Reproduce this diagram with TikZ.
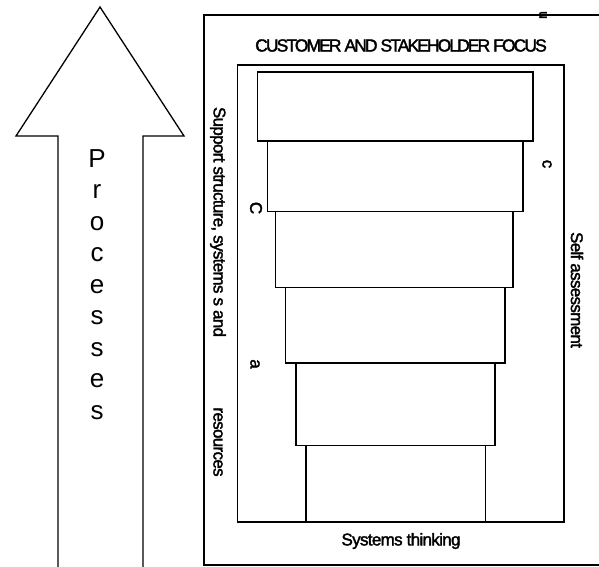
\documentclass[tikz,border=0pt]{standalone}
\usepackage{fontspec}
\setmainfont{Liberation Sans}
\newfontfamily\tightfont[LetterSpace=-4,FakeBold=2]{Liberation Sans}
\newfontfamily\headfont[LetterSpace=-11,FakeBold=2]{Liberation Sans}
\begin{document}
\begin{tikzpicture}[x=1pt,y=-1pt,
  frameline/.style={line width=1.6pt},
  tier/.style={draw,line width=1.6pt},
  lbl/.style={font=\tightfont\fontsize{17}{20}\selectfont, inner sep=0pt},
  vlbl/.style={lbl, rotate=-90},
  head/.style={font=\headfont\fontsize{17.5}{20}\selectfont, inner sep=0pt},
  proc/.style={font=\fontsize{26}{30}\selectfont, inner sep=0pt, anchor=base}]
\useasboundingbox (0,0) rectangle (599,566);

% upward block arrow, open at the bottom
\draw[line width=1.3pt, line join=miter]
  (58,572) -- (58,136) -- (16,136) -- (100,7) -- (184,136) -- (143,136) -- (143,572);
\foreach \ch [count=\i] in {P,r,o,c,e,s,s,e,s}
  \node[proc] (proc\i) at (97,{167+31.5*(\i-1)}) {\ch};

% outer frame and inner frame
\draw[frameline] (204,15) rectangle (602,565);
\draw[frameline] (237.5,65) rectangle (564,522);

% stacked tiers
\draw[tier] (257.5,72)  rectangle (533,141);
\draw[tier] (267.5,141) rectangle (523,211.5);
\draw[tier] (275.5,211.5) rectangle (513,287.5);
\draw[tier] (285.5,287.5) rectangle (505,363);
\draw[tier] (296,363)   rectangle (495,445.5);
\draw[tier] (306,445.5) rectangle (485.5,522);

% labels
\node[head] (focus) at (401,45.5) {CUSTOMER AND STAKEHOLDER FOCUS};
\node[lbl] (systhink) at (401,541) {Systems thinking};
\node[vlbl] (support) at (218,222) {Support structure, systems s and};
\node[vlbl] (resources) at (218,442) {resources};
\node[vlbl] (selfassess) at (577,290) {Self assessment};
\node[vlbl] (capC) at (256,208) {C};
\node[vlbl] (smalla) at (255,364) {a};
\node[vlbl] (smallc) at (547,164) {c};
\node[vlbl, font=\tightfont\fontsize{14}{16}\selectfont] (smallu) at (543,15) {u};
\end{tikzpicture}
\end{document}
